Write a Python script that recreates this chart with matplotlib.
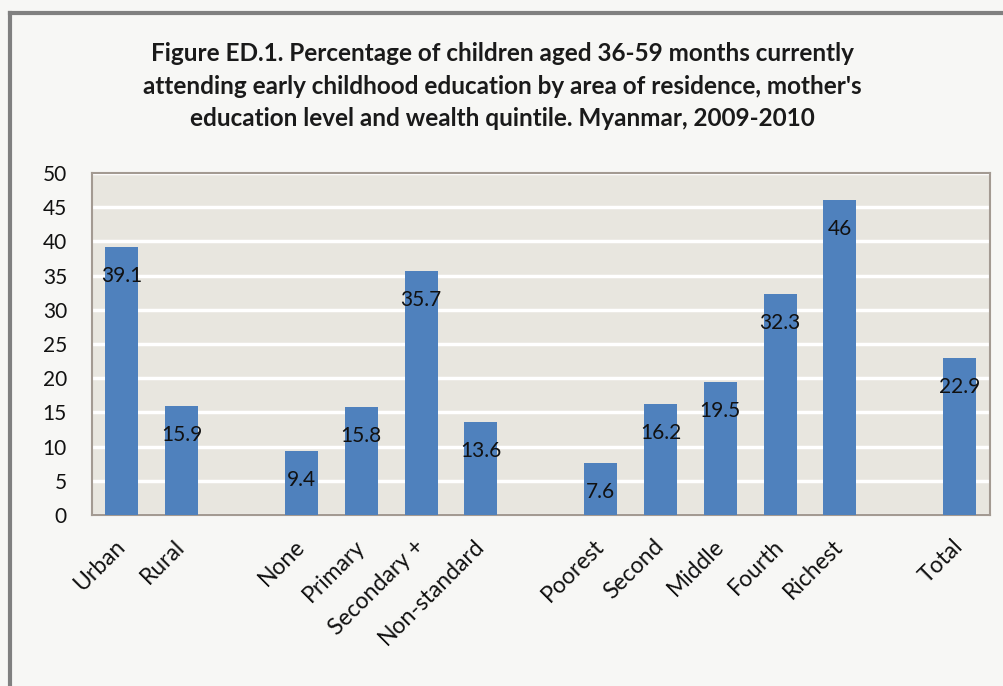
import matplotlib
matplotlib.use("Agg")
import matplotlib.pyplot as plt
from matplotlib.lines import Line2D

categories = ["Urban", "Rural", "", "None", "Primary", "Secondary +", "Non-standard", "",
              "Poorest", "Second", "Middle", "Fourth", "Richest", "", "Total"]
values = [39.1, 15.9, None, 9.4, 15.8, 35.7, 13.6, None, 7.6, 16.2, 19.5, 32.3, 46, None, 22.9]
labels = ["39.1", "15.9", "", "9.4", "15.8", "35.7", "13.6", "", "7.6", "16.2", "19.5", "32.3", "46", "", "22.9"]
yticks = [0, 5, 10, 15, 20, 25, 30, 35, 40, 45, 50]
title = ("Figure ED.1. Percentage of children aged 36-59 months currently\n"
         "attending early childhood education by area of residence, mother's\n"
         "education level and wealth quintile. Myanmar, 2009-2010")

plt.rcParams['font.family'] = ['Lato', 'DejaVu Sans']

fig = plt.figure(figsize=(10.04, 6.86), dpi=100, facecolor="#F7F7F5")
ax = fig.add_axes([0.0916, 0.249, 0.894, 0.499])
ax.set_facecolor("#E8E6DF")

xs = [i for i, v in enumerate(values) if v is not None]
vs = [v for v in values if v is not None]
ls = [labels[i] for i in xs]
ax.bar(xs, vs, width=0.55, color="#4F81BD", zorder=3)

for x, v, lab in zip(xs, vs, ls):
    ax.annotate(lab, (x, v), xytext=(0, -29), textcoords="offset pixels",
                ha="center", va="center", fontsize=15, color="#111111", zorder=4)

ax.set_xlim(-0.5, 14.5)
ax.set_ylim(0, 50)
ax.set_yticks(yticks)
ax.set_yticklabels([str(t) for t in yticks], fontsize=15, color="#111111")
ax.yaxis.grid(True, color="white", linewidth=2.5, zorder=1)
ax.set_axisbelow(True)
ax.tick_params(axis="y", length=0, pad=18)
ax.tick_params(axis="x", length=0, pad=20)
ax.set_xticks(range(len(categories)))
ax.set_xticklabels(categories, rotation=45, ha="right", va="center", rotation_mode="anchor",
                   fontsize=16.5, color="#111111")
for s in ax.spines.values():
    s.set_color("#A39A92")
    s.set_linewidth(1.5)

fig.text(0.5, 1 - 86/686, title, ha="center", va="center", fontsize=17.5, fontweight="bold",
         linespacing=1.5, color="#1a1a1a")

fig.add_artist(Line2D([10/1004, 10/1004], [0, 1 - 13/686], transform=fig.transFigure,
                      color="#808080", linewidth=3))
fig.add_artist(Line2D([10/1004, 1], [1 - 13/686, 1 - 13/686], transform=fig.transFigure,
                      color="#808080", linewidth=3))

fig.savefig("out.png", dpi=100, facecolor=fig.get_facecolor())
